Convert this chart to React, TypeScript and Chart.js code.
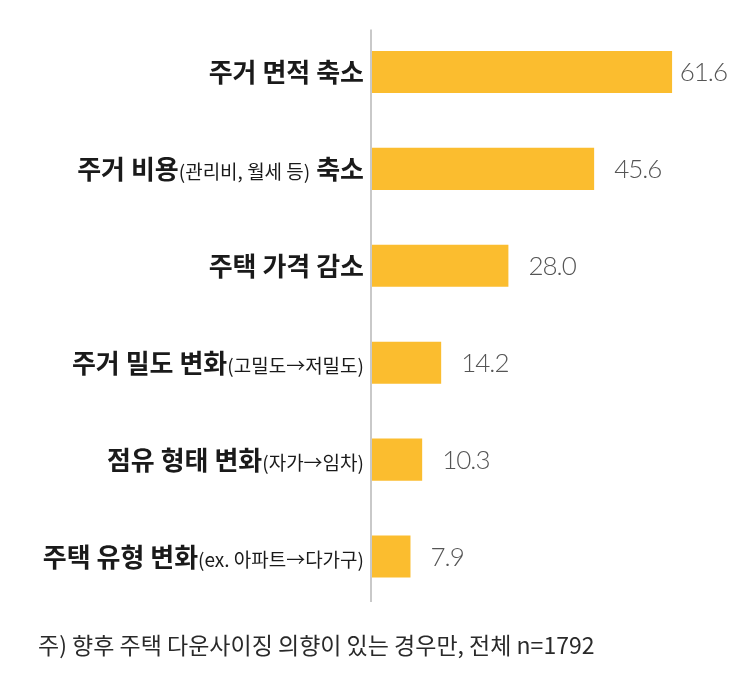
import React, { useEffect, useRef } from "react";
import { Chart, registerables } from "chart.js";

Chart.register(...registerables);

const labelMain = ["주거 면적 축소", "주거 비용", "주택 가격 감소", "주거 밀도 변화", "점유 형태 변화", "주택 유형 변화"];
const labelNote = ["", "(관리비, 월세 등)", "", "(고밀도→저밀도)", "(자가→임차)", "(ex. 아파트→다가구)"];
const labelTail = ["", " 축소", "", "", "", ""];
const values = [61.6, 45.6, 28.0, 14.2, 10.3, 7.9];
const footnote = "주) 향후 주택 다운사이징 의향이 있는 경우만, 전체 n=1792";

const FONT = '"Noto Sans CJK KR", "Noto Sans", sans-serif';
const BAR_COLOR = "#FBBD2F";

const customPlugin = {
  id: "customLabels",
  beforeDatasetsDraw(chart: any) {
    const { ctx, chartArea } = chart;
    ctx.save();
    ctx.strokeStyle = "#c9c9c9";
    ctx.lineWidth = 2;
    ctx.beginPath();
    ctx.moveTo(chartArea.left - 1, chartArea.top + 6);
    ctx.lineTo(chartArea.left - 1, chartArea.bottom - 3);
    ctx.stroke();
    ctx.restore();
  },
  afterDraw(chart: any) {
    const { ctx, chartArea, scales } = chart;
    const ys = scales.y;
    const xs = scales.x;
    ctx.save();
    ctx.textBaseline = "alphabetic";
    ctx.textAlign = "left";
    const mainFont = `bold 26px ${FONT}`;
    const noteFont = `19px ${FONT}`;
    labelMain.forEach((main, i) => {
      const cy = ys.getPixelForValue(i);
      const base = cy + 10;
      const segs: [string, string][] = [
        [main, mainFont],
        [labelNote[i], noteFont],
        [labelTail[i], mainFont],
      ];
      let total = 0;
      segs.forEach(([t, f]) => {
        ctx.font = f;
        total += ctx.measureText(t).width;
      });
      let x = chartArea.left - 8 - total;
      ctx.fillStyle = "#1a1a1a";
      segs.forEach(([t, f]) => {
        if (!t) return;
        ctx.font = f;
        ctx.fillText(t, x, base);
        x += ctx.measureText(t).width;
      });
    });

    // value labels
    ctx.font = `300 26px Lato, ${FONT}`;
    (ctx as any).letterSpacing = "-1px";
    ctx.fillStyle = "#555555";
    ctx.textBaseline = "middle";
    values.forEach((v, i) => {
      const txt = v.toFixed(1);
      const w = ctx.measureText(txt).width;
      const end = xs.getPixelForValue(v);
      const x = Math.min(end + 20, chart.width - w - 9);
      ctx.fillText(txt, x, ys.getPixelForValue(i) + 1);
    });
    (ctx as any).letterSpacing = "0px";

    // footnote
    ctx.font = `23px ${FONT}`;
    ctx.fillStyle = "#2a2a2a";
    ctx.textBaseline = "middle";
    ctx.fillText(footnote, 30, 637);
    ctx.restore();
  },
};

export default function App() {
  const ref = useRef<HTMLCanvasElement | null>(null);
  useEffect(() => {
    if (!ref.current) return;
    const chart = new Chart(ref.current, {
      type: "bar",
      data: {
        labels: labelMain.map((m, i) => m + labelNote[i] + labelTail[i]),
        datasets: [
          {
            data: values,
            backgroundColor: BAR_COLOR,
            borderWidth: 0,
            barPercentage: 0.435,
            categoryPercentage: 1,
          },
        ],
      },
      options: {
        indexAxis: "y",
        animation: false,
        responsive: true,
        maintainAspectRatio: false,
        layout: { padding: { left: 364, top: 15.5, right: 23, bottom: 76 } },
        plugins: { legend: { display: false }, tooltip: { enabled: false }, title: { display: false } },
        scales: {
          x: { display: false, min: 0, max: 70, grid: { display: false } },
          y: { display: false, grid: { display: false } },
        },
      },
      plugins: [customPlugin],
    });
    return () => chart.destroy();
  }, []);
  return (
    <div style={{ position: "relative", width: 728, height: 673 }}>
      <canvas ref={ref} />
    </div>
  );
}
